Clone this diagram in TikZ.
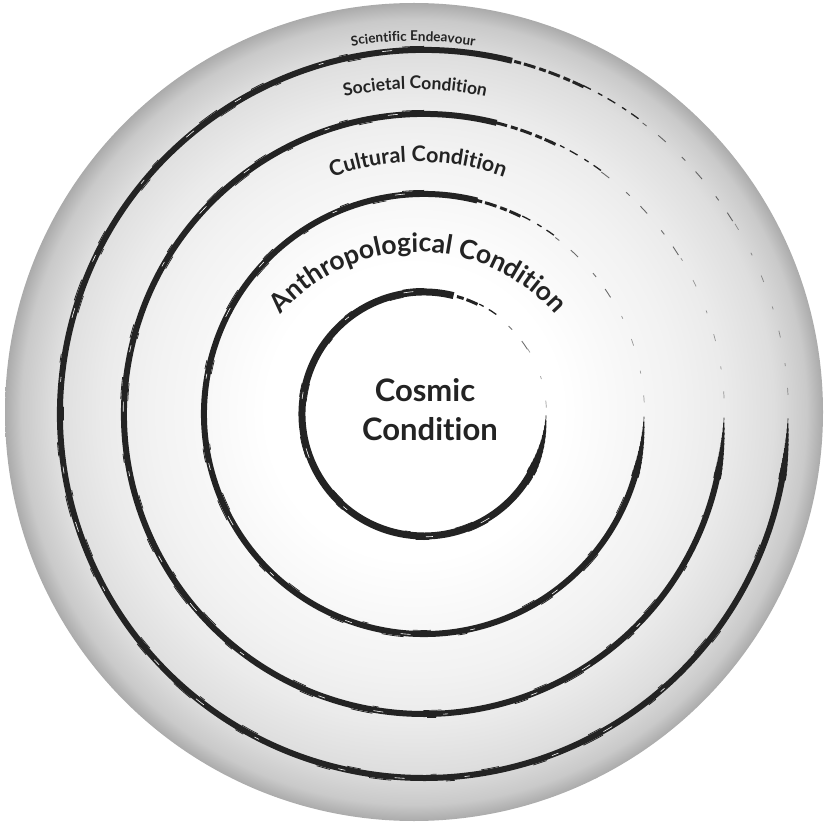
\documentclass[tikz,border=0pt]{standalone}
\usepackage{fontspec}
\setmainfont[Ligatures={NoCommon}]{Lato}
\usetikzlibrary{decorations.text}
\definecolor{ink}{HTML}{232323}
\pgfdeclareradialshading{disc}{\pgfpoint{0bp}{0bp}}{%
 color(0bp)=(white); color(9bp)=(white); color(13bp)=(white!97!black);
 color(16bp)=(white!95!black); color(19bp)=(white!92!black);
 color(22bp)=(white!87!black); color(24bp)=(white!79!black);
 color(25bp)=(white!67!black); color(50bp)=(white!67!black)}
\tikzset{
  brush/.style={draw=ink, line cap=butt},
  arctext/.style={decorate, decoration={text along path, text align=center, text color=ink}},
  centretext/.style={text=ink, inner sep=0pt, anchor=base, font=\fontsize{31}{31}\selectfont\bfseries}
}
\begin{document}
\begin{tikzpicture}[x=1pt,y=1pt]
\useasboundingbox (0,0) rectangle (827,823);
\coordinate (disc) at (414,411);
\coordinate (C) at (424,409);
\shade[shading=disc] (disc) circle[radius=409];

\foreach \R/\w in {122/7,220/6,300/6,364/6}{
  \pgfmathsetmacro\ta{359-3438/\R}
  \pgfmathsetmacro\td{(359-\ta)/12}
  % main brush stroke
  \draw[brush, line width=\w pt] (C) ++(76:\R) arc[start angle=76, end angle=\ta+0.5, radius=\R];
  % thicker part before the end, then taper to a point
  \foreach \i in {0,...,11}{
    \pgfmathsetmacro\aa{\ta+\i*\td}
    \pgfmathsetmacro\ww{\w*1.25*(1-\i/12)}
    \draw[brush, line width=\ww pt] (C) ++(\aa:\R) arc[start angle=\aa, delta angle=\td+0.3, radius=\R];
  }
  % brush texture
  \draw[brush, line width=0.8pt, dash pattern=on 22pt off 55pt on 9pt off 80pt on 14pt off 40pt]
     (C) ++(90:\R+3.6) arc[start angle=90, end angle=330, radius=\R+3.6];
  \draw[brush, line width=0.7pt, dash pattern=on 14pt off 70pt on 6pt off 45pt on 18pt off 95pt]
     (C) ++(100:\R-3.6) arc[start angle=100, end angle=340, radius=\R-3.6];
  \draw[white, line width=0.6pt, dash pattern=on 10pt off 60pt on 5pt off 85pt on 7pt off 50pt]
     (C) ++(95:\R+0.8) arc[start angle=95, end angle=320, radius=\R+0.8];
  % thinning start of the stroke
  \draw[brush, line width=3pt, dash pattern=on 12pt off 3pt on 7pt off 4pt]
     (C) ++(64:\R) arc[start angle=64, end angle=77, radius=\R];
  \draw[brush, line width=1.3pt, dash pattern=on 9pt off 6pt on 5pt off 8pt]
     (C) ++(54:\R+1) arc[start angle=54, end angle=65, radius=\R+1];
  % fading fragments
  \draw[brush, opacity=0.65, line width=0.9pt, dash pattern=on 10pt off 15pt on 5pt off 22pt]
     (C) ++(32:\R) arc[start angle=32, end angle=54, radius=\R];
  \draw[brush, opacity=0.45, line width=0.7pt, dash pattern=on 7pt off 22pt on 3pt off 26pt]
     (C) ++(3:\R+0.5) arc[start angle=3, end angle=32, radius=\R+0.5];
}

% curved labels
\path[arctext, decoration={text={|\fontsize{13.5}{13.5}\selectfont\bfseries|Scientific Endeavour}}]
  (413,409) ++(125:373) arc[start angle=125, end angle=55, radius=373];
\path[arctext, decoration={text={|\fontsize{17.5}{17.5}\selectfont\bfseries|Societal Condition}}]
  (415,409) ++(130:325) arc[start angle=130, end angle=50, radius=325];
\path[arctext, decoration={text={|\fontsize{21.5}{21.5}\selectfont\bfseries|Cultural Condition}}]
  (418,409) ++(140:252) arc[start angle=140, end angle=40, radius=252];
\path[arctext, decoration={text={|\fontsize{26.5}{26.5}\selectfont\bfseries|Anthropological Condition}}]
  (418,390) ++(165:181) arc[start angle=165, end angle=15, radius=181];

\node[centretext] (cosmic) at (425,421) {Cosmic};
\node[centretext] (condition) at (430,383) {Condition};
\end{tikzpicture}
\end{document}
